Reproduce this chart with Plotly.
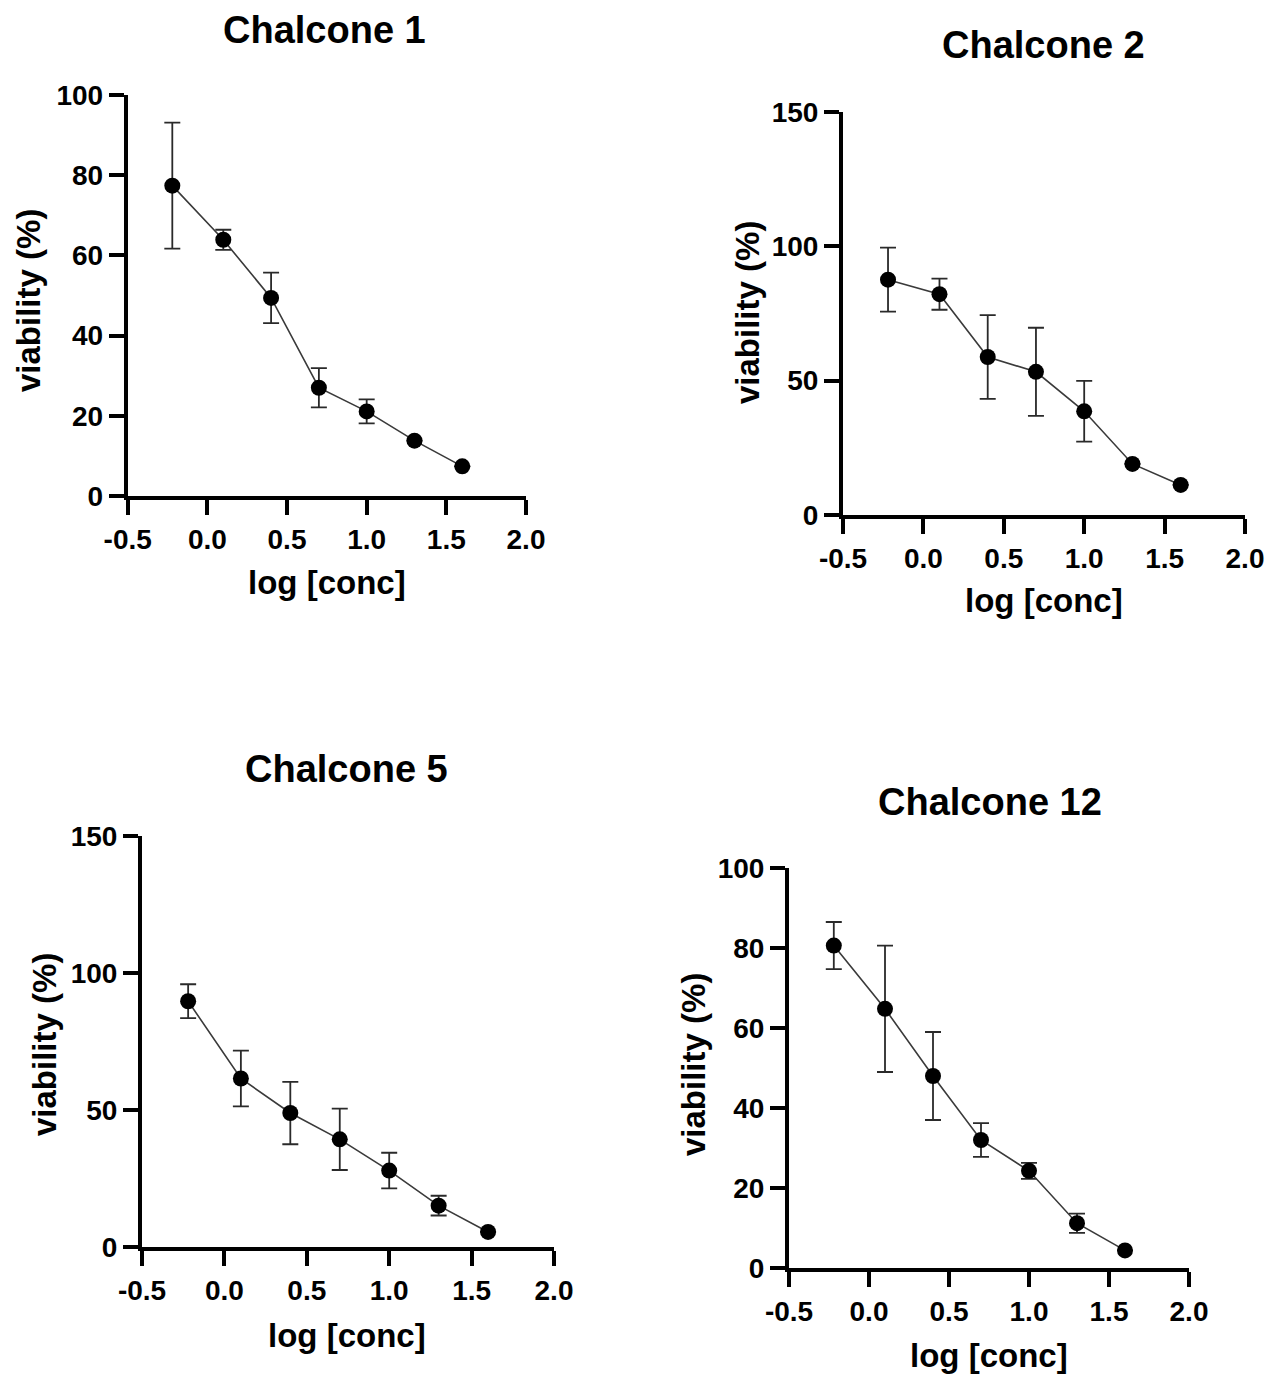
import plotly.graph_objects as go

# ---------------- data ----------------
log_conc = [-0.22, 0.1, 0.4, 0.7, 1.0, 1.3, 1.6]

chalcone1 = [77.4, 63.9, 49.4, 27.0, 21.1, 13.8, 7.4]
chalcone1_err = [15.7, 2.5, 6.3, 4.9, 3.0, None, None]

chalcone2 = [87.6, 82.2, 58.8, 53.3, 38.6, 19.0, 11.2]
chalcone2_err = [11.9, 5.8, 15.6, 16.4, 11.3, None, None]

chalcone5 = [89.7, 61.5, 48.9, 39.3, 27.9, 15.1, 5.5]
chalcone5_err = [6.2, 10.2, 11.4, 11.2, 6.5, 3.6, None]

chalcone12 = [80.6, 64.8, 48.0, 32.0, 24.3, 11.2, 4.4]
chalcone12_err = [5.9, 15.8, 11.0, 4.2, 2.0, 2.4, None]

titles = ["Chalcone 1", "Chalcone 2", "Chalcone 5", "Chalcone 12"]
x_title = "log [conc]"
y_title = "viability (%)"
x_ticks = [-0.5, 0.0, 0.5, 1.0, 1.5, 2.0]
x_ticklabels = ["-0.5", "0.0", "0.5", "1.0", "1.5", "2.0"]
y_ranges = [[0, 100], [0, 150], [0, 150], [0, 100]]
y_dticks = [20, 50, 50, 20]

# ---------------- layout geometry (pixels) ----------------
W, H = 1268, 1374
FONT = "Liberation Sans, Arial, sans-serif"
# (x_left, x_right, y_top, y_bottom)
boxes = [
    (127.7, 526.0, 95.0, 496.0),
    (843.0, 1245.0, 112.0, 515.0),
    (142.0, 554.0, 836.0, 1247.0),
    (789.0, 1189.0, 868.0, 1268.0),
]
title_pos = [(324, 30), (1043, 45), (346, 769), (990, 802)]
xtitle_pos = [(327, 582), (1044, 600), (347, 1335), (989, 1355)]
ytitle_pos = [(29, 301), (747, 313), (44, 1045), (693, 1065)]

series = [
    (chalcone1, chalcone1_err),
    (chalcone2, chalcone2_err),
    (chalcone5, chalcone5_err),
    (chalcone12, chalcone12_err),
]

fig = go.Figure()
annotations = []

for i, ((vals, errs), (x0, x1, yt, yb)) in enumerate(zip(series, boxes)):
    n = "" if i == 0 else str(i + 1)
    fig.add_trace(go.Scatter(
        x=log_conc, y=vals,
        mode="lines+markers",
        xaxis="x" + n, yaxis="y" + n,
        line=dict(color="#3a3a3a", width=1.6),
        marker=dict(color="black", size=16),
        error_y=dict(type="data", array=errs, visible=True,
                     color="#2a2a2a", thickness=1.8, width=8),
        cliponaxis=False,
        showlegend=False,
    ))
    axis_common = dict(
        showline=True, linecolor="black", linewidth=4,
        ticks="outside", ticklen=15, tickwidth=4, tickcolor="black",
        showgrid=False, zeroline=False, automargin=False,
        tickfont=dict(family=FONT, size=28, color="black", weight="bold"),
    )
    fig.layout["xaxis" + n] = dict(
        domain=[x0 / W, x1 / W], anchor="y" + n,
        range=[-0.5, 2.0], tickvals=x_ticks, ticktext=x_ticklabels,
        **axis_common,
    )
    fig.layout["yaxis" + n] = dict(
        domain=[1 - yb / H, 1 - yt / H], anchor="x" + n,
        range=y_ranges[i], dtick=y_dticks[i], tick0=0,
        **axis_common,
    )
    tx, ty = title_pos[i]
    annotations.append(dict(
        text=titles[i], x=tx / W, y=1 - ty / H, xref="paper", yref="paper",
        xanchor="center", yanchor="middle", showarrow=False,
        font=dict(family=FONT, size=38, color="black", weight="bold")))
    ax_, ay_ = xtitle_pos[i]
    annotations.append(dict(
        text=x_title, x=ax_ / W, y=1 - ay_ / H, xref="paper", yref="paper",
        xanchor="center", yanchor="middle", showarrow=False,
        font=dict(family=FONT, size=33, color="black", weight="bold")))
    bx, by = ytitle_pos[i]
    annotations.append(dict(
        text=y_title, x=bx / W, y=1 - by / H, xref="paper", yref="paper",
        xanchor="center", yanchor="middle", showarrow=False, textangle=-90,
        font=dict(family=FONT, size=33, color="black", weight="bold")))

fig.update_layout(
    width=W, height=H,
    margin=dict(l=0, r=0, t=0, b=0, autoexpand=False),
    paper_bgcolor="white", plot_bgcolor="white",
    annotations=annotations,
)

fig.write_html("out.html")
